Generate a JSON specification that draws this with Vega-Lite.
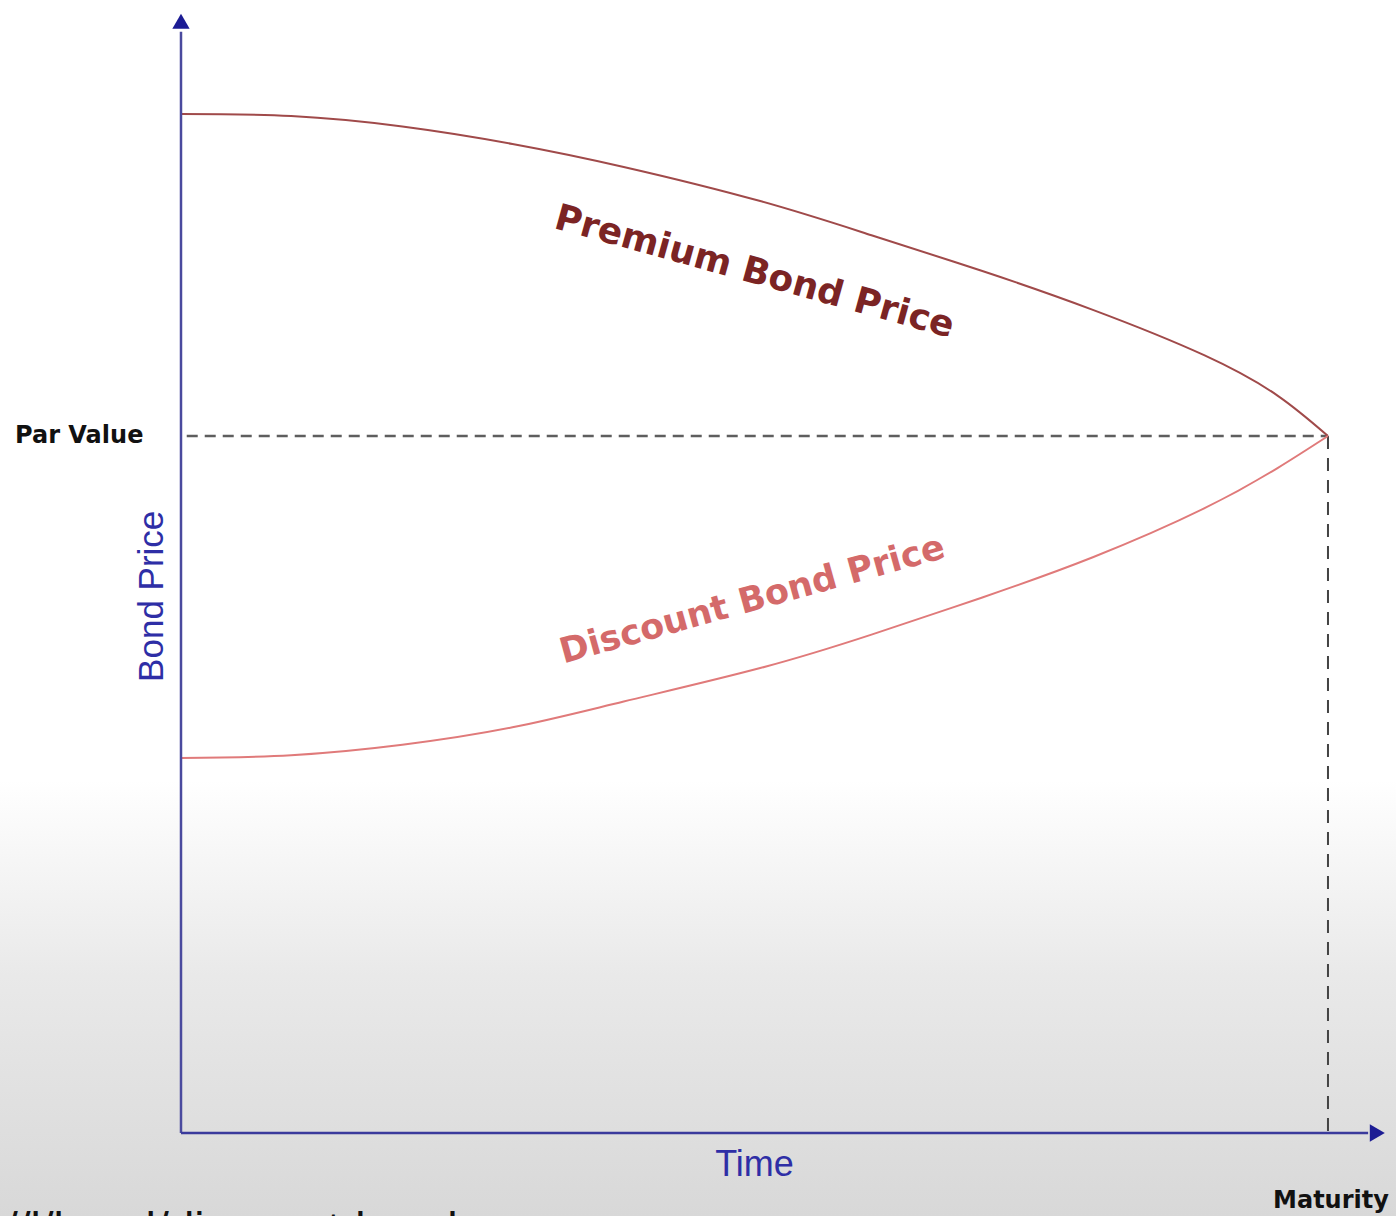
{
  "$schema": "https://vega.github.io/schema/vega-lite/v6.json",
  "width": 1396,
  "height": 1216,
  "padding": 0,
  "autosize": {"type": "none"},
  "background": "#ffffff",
  "config": {"view": {"stroke": null}, "axis": {"disable": true}},
  "data": {"values": [{}]},
  "datasets": {
    "curves": [
      {"series": "Premium", "time": 0, "price": 146.2},
      {"series": "Premium", "time": 0.96, "price": 145.9},
      {"series": "Premium", "time": 1.93, "price": 144.4},
      {"series": "Premium", "time": 2.89, "price": 141.9},
      {"series": "Premium", "time": 3.86, "price": 138.6},
      {"series": "Premium", "time": 5.05, "price": 133.7},
      {"series": "Premium", "time": 6.02, "price": 128.8},
      {"series": "Premium", "time": 6.98, "price": 123.7},
      {"series": "Premium", "time": 7.95, "price": 118.1},
      {"series": "Premium", "time": 8.92, "price": 111.6},
      {"series": "Premium", "time": 9.56, "price": 105.8},
      {"series": "Premium", "time": 10, "price": 100},
      {"series": "Discount", "time": 0, "price": 53.8},
      {"series": "Discount", "time": 0.96, "price": 54.2},
      {"series": "Discount", "time": 1.93, "price": 55.7},
      {"series": "Discount", "time": 2.89, "price": 58.2},
      {"series": "Discount", "time": 3.86, "price": 61.9},
      {"series": "Discount", "time": 5.05, "price": 66.7},
      {"series": "Discount", "time": 6.02, "price": 71.5},
      {"series": "Discount", "time": 6.98, "price": 76.8},
      {"series": "Discount", "time": 7.95, "price": 82.6},
      {"series": "Discount", "time": 8.92, "price": 89.6},
      {"series": "Discount", "time": 9.56, "price": 95.4},
      {"series": "Discount", "time": 10, "price": 100}
    ]
  },
  "layer": [
    {
      "mark": {"type": "rect", "color": {"gradient": "linear", "x1": 0, "y1": 0, "x2": 0, "y2": 1, "stops": [{"offset": 0, "color": "#ffffff"}, {"offset": 0.45, "color": "#e9e9e9"}, {"offset": 1, "color": "#d8d8d8"}]}},
      "encoding": {
        "x": {"datum": -1.578, "type": "quantitative", "scale": {"domain": [-1.578, 10.593], "nice": false, "zero": false}},
        "x2": {"datum": 10.593},
        "y": {"datum": 50.6, "type": "quantitative", "scale": {"domain": [-11.91, 162.55], "nice": false, "zero": false}},
        "y2": {"datum": -11.91}
      }
    },
    {
      "mark": {"type": "rule", "color": "#5e5e5e", "strokeWidth": 2.5, "strokeDash": [11, 7]},
      "encoding": {
        "x": {"datum": 0.05, "type": "quantitative", "scale": {"domain": [-1.578, 10.593], "nice": false, "zero": false}},
        "x2": {"datum": 10},
        "y": {"datum": 100, "type": "quantitative", "scale": {"domain": [-11.91, 162.55], "nice": false, "zero": false}}
      }
    },
    {
      "mark": {"type": "rule", "color": "#444444", "strokeWidth": 2, "strokeDash": [13, 9]},
      "encoding": {
        "x": {"datum": 10, "type": "quantitative", "scale": {"domain": [-1.578, 10.593], "nice": false, "zero": false}},
        "y": {"datum": 100, "type": "quantitative", "scale": {"domain": [-11.91, 162.55], "nice": false, "zero": false}},
        "y2": {"datum": 0}
      }
    },
    {
      "data": {"name": "curves"},
      "transform": [{"filter": "datum.series === 'Premium'"}],
      "mark": {"type": "line", "color": "#a04a4a", "strokeWidth": 2, "interpolate": "natural"},
      "encoding": {
        "x": {"field": "time", "type": "quantitative", "scale": {"domain": [-1.578, 10.593], "nice": false, "zero": false}},
        "y": {"field": "price", "type": "quantitative", "scale": {"domain": [-11.91, 162.55], "nice": false, "zero": false}}
      }
    },
    {
      "data": {"name": "curves"},
      "transform": [{"filter": "datum.series === 'Discount'"}],
      "mark": {"type": "line", "color": "#e07a7a", "strokeWidth": 2, "interpolate": "natural"},
      "encoding": {
        "x": {"field": "time", "type": "quantitative", "scale": {"domain": [-1.578, 10.593], "nice": false, "zero": false}},
        "y": {"field": "price", "type": "quantitative", "scale": {"domain": [-11.91, 162.55], "nice": false, "zero": false}}
      }
    },
    {
      "mark": {"type": "rule", "color": "#4a4a9e", "strokeWidth": 2.5},
      "encoding": {
        "x": {"datum": 0, "type": "quantitative", "scale": {"domain": [-1.578, 10.593], "nice": false, "zero": false}},
        "y": {"datum": 0, "type": "quantitative", "scale": {"domain": [-11.91, 162.55], "nice": false, "zero": false}},
        "y2": {"datum": 158}
      }
    },
    {
      "mark": {"type": "rule", "color": "#3a3a9c", "strokeWidth": 2.5},
      "encoding": {
        "x": {"datum": 0, "type": "quantitative", "scale": {"domain": [-1.578, 10.593], "nice": false, "zero": false}},
        "x2": {"datum": 10.35},
        "y": {"datum": 0, "type": "quantitative", "scale": {"domain": [-11.91, 162.55], "nice": false, "zero": false}}
      }
    },
    {
      "mark": {"type": "point", "shape": "triangle-up", "filled": true, "color": "#1c1c94", "size": 300, "opacity": 1},
      "encoding": {
        "x": {"datum": 0, "type": "quantitative", "scale": {"domain": [-1.578, 10.593], "nice": false, "zero": false}},
        "y": {"datum": 159.5, "type": "quantitative", "scale": {"domain": [-11.91, 162.55], "nice": false, "zero": false}}
      }
    },
    {
      "mark": {"type": "point", "shape": "triangle-right", "filled": true, "color": "#1c1c94", "size": 300, "opacity": 1},
      "encoding": {
        "x": {"datum": 10.43, "type": "quantitative", "scale": {"domain": [-1.578, 10.593], "nice": false, "zero": false}},
        "y": {"datum": 0, "type": "quantitative", "scale": {"domain": [-11.91, 162.55], "nice": false, "zero": false}}
      }
    },
    {
      "mark": {"type": "text", "text": "Premium Bond Price", "font": "DejaVu Sans", "fontWeight": "bold", "fontSize": 36, "color": "#7b2424", "angle": 15.5, "align": "center", "baseline": "middle"},
      "encoding": {
        "x": {"datum": 5.0, "type": "quantitative", "scale": {"domain": [-1.578, 10.593], "nice": false, "zero": false}},
        "y": {"datum": 123.5, "type": "quantitative", "scale": {"domain": [-11.91, 162.55], "nice": false, "zero": false}}
      }
    },
    {
      "mark": {"type": "text", "text": "Discount Bond Price", "font": "DejaVu Sans", "fontWeight": "bold", "fontSize": 35, "color": "#d46a6a", "angle": -15.5, "align": "center", "baseline": "middle"},
      "encoding": {
        "x": {"datum": 4.98, "type": "quantitative", "scale": {"domain": [-1.578, 10.593], "nice": false, "zero": false}},
        "y": {"datum": 76.5, "type": "quantitative", "scale": {"domain": [-11.91, 162.55], "nice": false, "zero": false}}
      }
    },
    {
      "mark": {"type": "text", "text": "Par Value", "font": "DejaVu Sans", "fontWeight": "bold", "fontSize": 24, "color": "#111111", "align": "left", "baseline": "middle"},
      "encoding": {
        "x": {"datum": -1.447, "type": "quantitative", "scale": {"domain": [-1.578, 10.593], "nice": false, "zero": false}},
        "y": {"datum": 100, "type": "quantitative", "scale": {"domain": [-11.91, 162.55], "nice": false, "zero": false}}
      }
    },
    {
      "mark": {"type": "text", "text": "Bond Price", "font": "Liberation Sans", "fontSize": 35, "color": "#2e2ea6", "angle": -90, "align": "center", "baseline": "middle"},
      "encoding": {
        "x": {"datum": -0.253, "type": "quantitative", "scale": {"domain": [-1.578, 10.593], "nice": false, "zero": false}},
        "y": {"datum": 77.0, "type": "quantitative", "scale": {"domain": [-11.91, 162.55], "nice": false, "zero": false}}
      }
    },
    {
      "mark": {"type": "text", "text": "Time", "font": "Liberation Sans", "fontSize": 36, "color": "#2e2ea6", "align": "center", "baseline": "middle"},
      "encoding": {
        "x": {"datum": 5.0, "type": "quantitative", "scale": {"domain": [-1.578, 10.593], "nice": false, "zero": false}},
        "y": {"datum": -4.59, "type": "quantitative", "scale": {"domain": [-11.91, 162.55], "nice": false, "zero": false}}
      }
    },
    {
      "mark": {"type": "text", "text": "Maturity", "font": "DejaVu Sans", "fontWeight": "bold", "fontSize": 24, "color": "#111111", "align": "center", "baseline": "middle"},
      "encoding": {
        "x": {"datum": 10.026, "type": "quantitative", "scale": {"domain": [-1.578, 10.593], "nice": false, "zero": false}},
        "y": {"datum": -9.76, "type": "quantitative", "scale": {"domain": [-11.91, 162.55], "nice": false, "zero": false}}
      }
    },
    {
      "mark": {"type": "text", "text": "//l/bond/discount-bond", "font": "Liberation Sans", "fontSize": 46, "color": "#111111", "align": "left", "baseline": "alphabetic"},
      "encoding": {
        "x": {"datum": -1.534, "type": "quantitative", "scale": {"domain": [-1.578, 10.593], "nice": false, "zero": false}},
        "y": {"datum": -16.0, "type": "quantitative", "scale": {"domain": [-11.91, 162.55], "nice": false, "zero": false}}
      }
    }
  ]
}
